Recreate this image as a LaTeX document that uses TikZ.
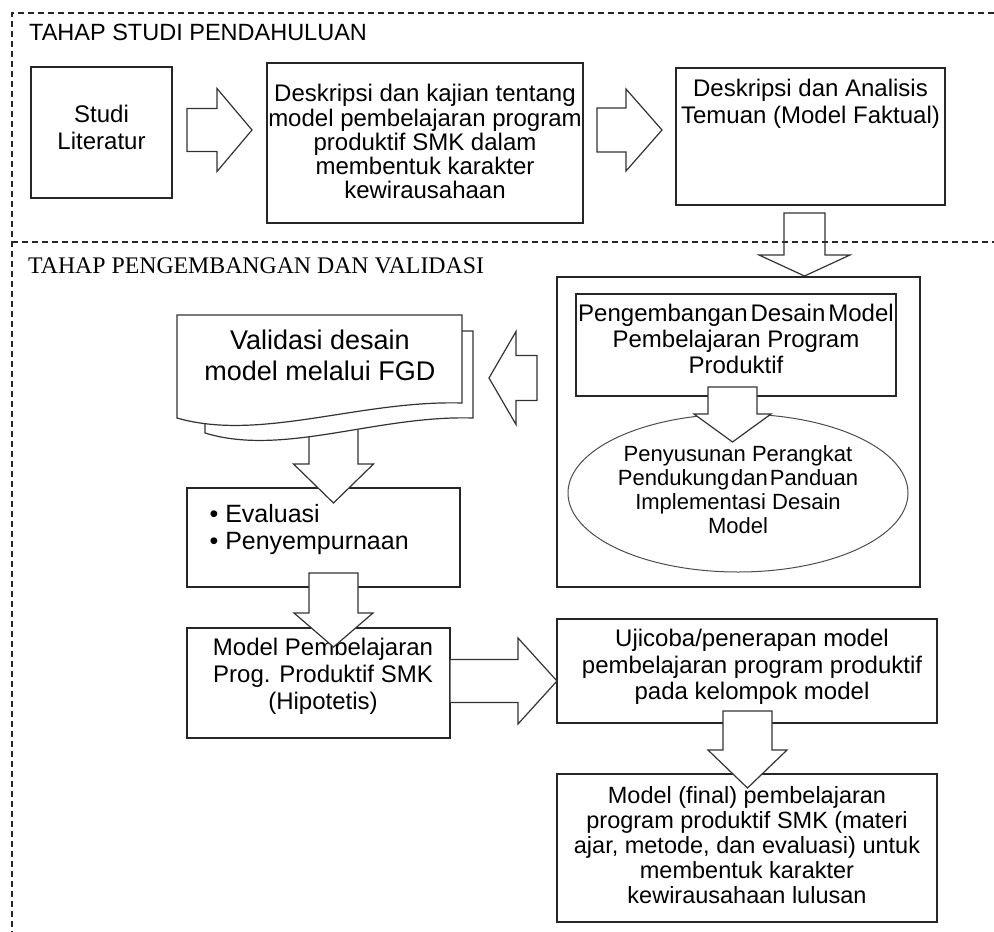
\documentclass[tikz,border=0pt]{standalone}
\usepackage{fontspec}
\setmainfont{Liberation Sans}
\newfontfamily\headserif{Liberation Serif}
\usetikzlibrary{calc,shapes.geometric}

% block arrows: [style] {tail}{tip}{half shaft}{half head}{head length}
\newcommand{\blkright}[6][]{%
  \draw[blkarrow,#1] ($(#2)+(0,-#4)$) -- ($(#3)+(-#6,-#4)$) -- ($(#3)+(-#6,-#5)$) -- (#3)
    -- ($(#3)+(-#6,#5)$) -- ($(#3)+(-#6,#4)$) -- ($(#2)+(0,#4)$) -- cycle;}
\newcommand{\blkleft}[6][]{%
  \draw[blkarrow,#1] ($(#2)+(0,-#4)$) -- ($(#3)+(#6,-#4)$) -- ($(#3)+(#6,-#5)$) -- (#3)
    -- ($(#3)+(#6,#5)$) -- ($(#3)+(#6,#4)$) -- ($(#2)+(0,#4)$) -- cycle;}
\newcommand{\blkdown}[6][]{%
  \draw[blkarrow,#1] ($(#2)+(-#4,0)$) -- ($(#3)+(-#4,-#6)$) -- ($(#3)+(-#5,-#6)$) -- (#3)
    -- ($(#3)+(#5,-#6)$) -- ($(#3)+(#4,-#6)$) -- ($(#2)+(#4,0)$) -- cycle;}

\begin{document}
\begin{tikzpicture}[x=1pt,y=-1pt,
    kotak/.style={draw=black!85, line width=1.4pt, inner sep=0pt},
    teks/.style={inner sep=0pt, align=center, anchor=north},
    blkarrow/.style={draw=black!80, line width=1.2pt, fill=white},
    bingkai/.style={draw=black!85, line width=1.2pt, dash pattern=on 6pt off 4pt},
    judul/.style={anchor=base west, inner sep=0pt}]

  \useasboundingbox (0,0) rectangle (994,932);

  % stage frames
  \draw[bingkai] (994,13) -- (12,13) -- (12,932);
  \draw[bingkai] (12,242) -- (994,242);
  \node[judul, font=\fontsize{23.5}{26}\selectfont] (judul1) at (29,40) {TAHAP STUDI PENDAHULUAN};
  \node[judul, font=\headserif\fontsize{23.8}{26}\selectfont] (judul2) at (28,273) {TAHAP PENGEMBANGAN DAN VALIDASI};

  % stage 1
  \node[kotak, minimum width=141pt, minimum height=131pt] (studi) at (101.5,132.5) {};
  \node[teks, font=\fontsize{24}{27}\selectfont] (studi-t) at ($(studi.north)+(0,39)$) {Studi\\Literatur};

  \node[kotak, minimum width=316pt, minimum height=160pt] (kajian) at (425,143) {};
  \node[teks, font=\fontsize{24}{24.2}\selectfont] (kajian-t) at ($(kajian.north)+(0,22)$)
    {Deskripsi dan kajian tentang\\model pembelajaran program\\produktif SMK dalam\\membentuk karakter\\kewirausahaan};

  \node[kotak, minimum width=269pt, minimum height=137pt] (analisis) at (810.5,136.5) {};
  \node[teks, font=\fontsize{24}{27}\selectfont] (analisis-t) at ($(analisis.north)+(0,12)$)
    {Deskripsi dan Analisis\\Temuan (Model Faktual)};

  % stage 2
  \node[kotak, minimum width=363pt, minimum height=310pt] (besar) at (738.5,432) {};
  \node[kotak, minimum width=320pt, minimum height=102pt] (kembang) at (736,345) {};
  \node[teks, font=\fontsize{24}{26}\selectfont] (kembang-t) at ($(kembang.north)+(0,11)$)
    {Pengembangan\hspace{3pt}Desain\hspace{3pt}Model\\Pembelajaran Program\\Produktif};
  \node[ellipse, draw=black!70, line width=1pt, inner sep=0pt, minimum width=340pt, minimum height=158pt] (susun) at (738,493) {};
  \node[teks, font=\fontsize{22}{24}\selectfont] (susun-t) at ($(susun.north)+(0,32)$)
    {Penyusunan Perangkat\\Pendukung\hspace{2pt}dan\hspace{2pt}Panduan\\Implementasi Desain\\Model};

  \node[kotak, minimum width=273pt, minimum height=99pt] (evaluasi) at (323.5,537.5) {};
  \node[teks, anchor=north west, align=left, font=\fontsize{25}{27}\selectfont] (evaluasi-t) at ($(evaluasi.north west)+(23,17)$)
    {•\hspace{7pt}Evaluasi\\•\hspace{7pt}Penyempurnaan};

  \node[kotak, minimum width=263pt, minimum height=110pt] (hipotetis) at (318.5,683) {};
  \node[teks, font=\fontsize{24}{27}\selectfont] (hipotetis-t) at ($(hipotetis.north)+(4.5,11)$)
    {Model Pembelajaran\\Prog. Produktif SMK\\(Hipotetis)};

  \node[kotak, minimum width=380pt, minimum height=104pt] (ujicoba) at (747,671) {};
  \node[teks, font=\fontsize{24}{26.5}\selectfont] (ujicoba-t) at ($(ujicoba.north)+(5,11)$)
    {Ujicoba/penerapan model\\pembelajaran program produktif\\pada kelompok model};

  \node[kotak, minimum width=380pt, minimum height=148pt] (final) at (747,848) {};
  \node[teks, font=\fontsize{23.5}{25}\selectfont] (final-t) at ($(final.north)+(0,13)$)
    {Model (final) pembelajaran\\program produktif SMK (materi\\ajar, metode, dan evaluasi) untuk\\membentuk karakter\\kewirausahaan lulusan};

  % arrow ends
  \coordinate (p1a) at (187,130);   \coordinate (p1b) at (252,130);
  \coordinate (p2a) at (597,130);   \coordinate (p2b) at (662,130);
  \coordinate (p3a) at (804.5,213); \coordinate (p3b) at (804.5,276);
  \coordinate (p4a) at (732.5,387); \coordinate (p4b) at (732.5,442);
  \coordinate (p5a) at (537,378);   \coordinate (p5b) at (489,378);
  \coordinate (p6a) at (333.5,425); \coordinate (p6b) at (333.5,503);
  \coordinate (p7a) at (333.5,573); \coordinate (p7b) at (333.5,647);
  \coordinate (p8a) at (450,681);   \coordinate (p8b) at (557,681);
  \coordinate (p9a) at (747.5,711); \coordinate (p9b) at (747.5,788);

  \blkdown{p6a}{p6b}{24.5}{40}{39}

  % document shape (FGD)
  \draw[draw=black!80, line width=1.2pt, fill=white] (205,331) -- (473,331) -- (473,418)
    .. controls (377,415) and (283,457) .. (205,433) -- cycle;
  \draw[draw=black!80, line width=1.2pt, fill=white] (177,315) -- (462,315) -- (462,403)
    .. controls (360,400) and (260,442) .. (177,418) -- cycle;
  \node[teks, font=\fontsize{27}{31}\selectfont] (validasi) at (320,330) {Validasi desain\\model melalui FGD};

  \blkright{p1a}{p1b}{21.5}{41.5}{35}
  \blkright{p2a}{p2b}{22}{41}{36}
  \blkdown[fill=none]{p3a}{p3b}{20.5}{45.5}{21}
  \blkdown{p4a}{p4b}{24.5}{38.5}{28}
  \blkleft{p5a}{p5b}{22.5}{46.5}{27}
  \blkdown{p7a}{p7b}{24.5}{39.5}{34}
  \blkright{p8a}{p8b}{21.5}{43}{39}
  \blkdown{p9a}{p9b}{24.5}{39.5}{38}
\end{tikzpicture}
\end{document}
